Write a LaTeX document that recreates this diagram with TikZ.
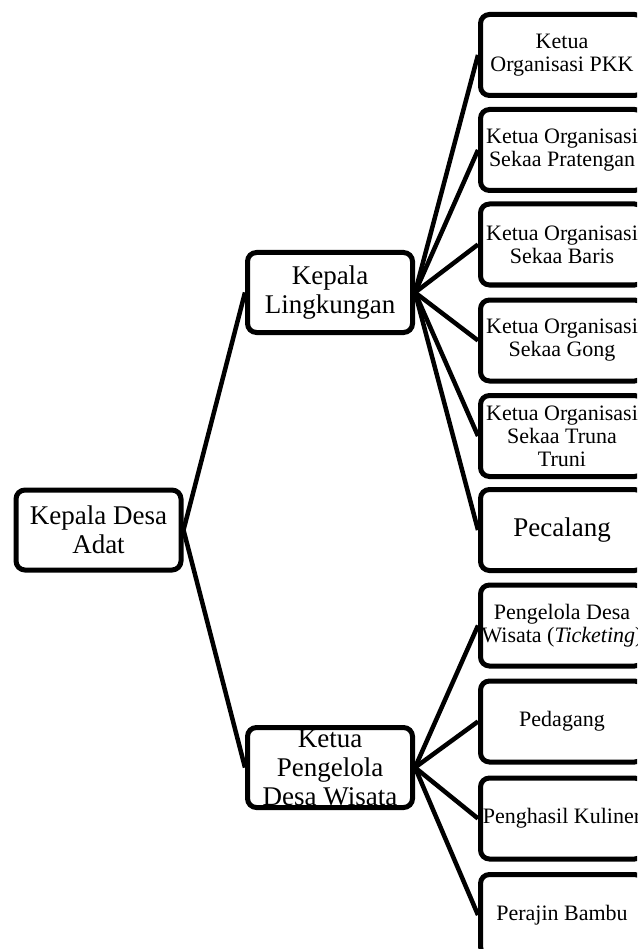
\documentclass[tikz,border=0pt]{standalone}
\usepackage{fontspec}
\setmainfont{Liberation Serif}
\begin{document}
\begin{tikzpicture}[x=1pt,y=-1pt,
  box/.style={draw,line width=5pt,rounded corners=9pt,align=center,inner sep=0pt,fill=white},
  big/.style={box,minimum width=165pt,minimum height=80pt,font=\fontsize{27}{29}\selectfont},
  small/.style={box,minimum width=163pt,minimum height=81pt,font=\fontsize{22}{23}\selectfont},
  link/.style={line width=4.5pt}]
\useasboundingbox (0,0) rectangle (637,949);
\clip (0,0) rectangle (637,949);
% left and middle
\node[big] (root) at (98.5,530) {Kepala Desa\\Adat};
\node[big] (kl) at (330,292.5) {Kepala\\Lingkungan};
\node[big] (kp) at (330,767.5) {Ketua\\Pengelola\\Desa Wisata};
% right column
\node[small] (r1) at (562,55) {Ketua\\Organisasi PKK};
\node[small] (r2) at (562,150) {Ketua Organisasi\\Sekaa Pratengan};
\node[small] (r3) at (562,244.5) {Ketua Organisasi\\Sekaa Baris};
\node[small] (r4) at (562,340.5) {Ketua Organisasi\\Sekaa Gong};
\node[small] (r5) at (562,436) {Ketua Organisasi\\Sekaa Truna\\Truni};
\node[small,font=\fontsize{27}{29}\selectfont] (r6) at (562,530) {Pecalang};
\node[small] (r7) at (562,625.5) {Pengelola Desa\\Wisata (\textit{Ticketing})};
\node[small] (r8) at (562,721.5) {Pedagang};
\node[small] (r9) at (562,818.5) {Penghasil Kuliner};
\node[small] (r10) at (562,915) {Perajin Bambu};
% connectors
\draw[link] (root.east) -- (kl.west);
\draw[link] (root.east) -- (kp.west);
\foreach \n in {r1,r2,r3,r4,r5,r6}{\draw[link] (kl.east) -- (\n.west);}
\foreach \n in {r7,r8,r9,r10}{\draw[link] (kp.east) -- (\n.west);}
\end{tikzpicture}
\end{document}
